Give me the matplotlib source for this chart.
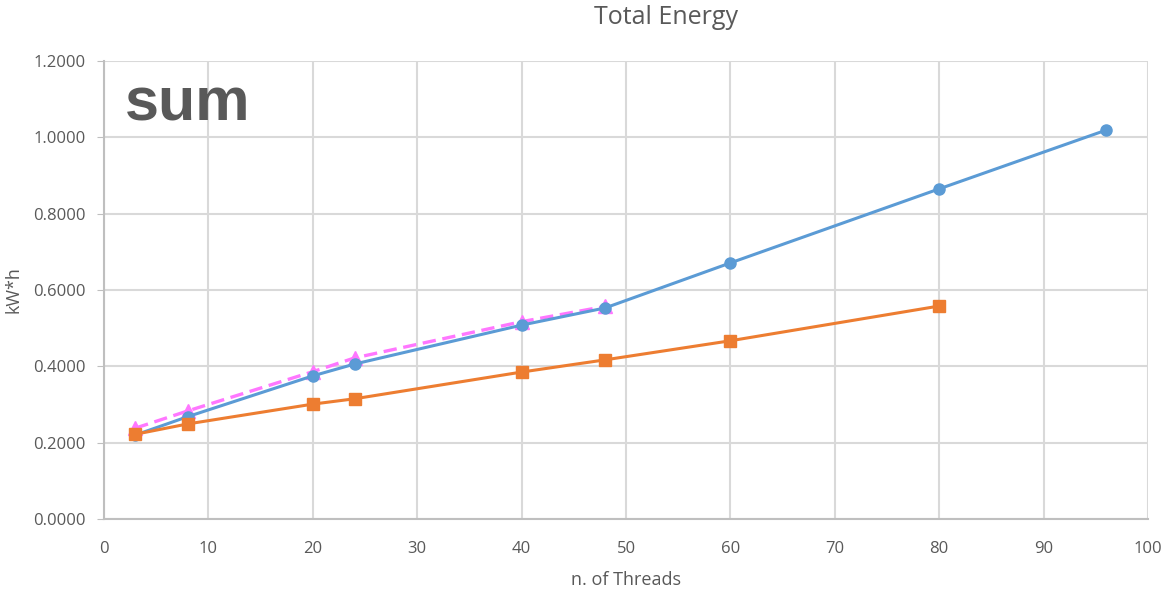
import matplotlib
matplotlib.use("Agg")
import matplotlib.pyplot as plt

plt.rcParams['font.family'] = ['Open Sans', 'DejaVu Sans']

# threads
threads_blue = [3, 8, 20, 24, 40, 48, 60, 80, 96]
energy_blue = [0.220, 0.268, 0.375, 0.406, 0.508, 0.553, 0.671, 0.865, 1.019]

threads_orange = [3, 8, 20, 24, 40, 48, 60, 80]
energy_orange = [0.222, 0.249, 0.301, 0.315, 0.385, 0.417, 0.467, 0.558]

threads_pink = [3, 8, 20, 24, 40, 48]
energy_pink = [0.238, 0.283, 0.386, 0.422, 0.517, 0.557]

fig = plt.figure(figsize=(11.7, 5.92), dpi=100)
ax = fig.add_axes([104/1170, 1 - 519/592, (1148-104)/1170, (519-61)/592])

ax.plot(threads_blue, energy_blue, color='#5B9BD5', lw=2.2, marker='o', ms=8, zorder=3)
ax.plot(threads_orange, energy_orange, color='#ED7D31', lw=2.2, marker='s', ms=8, zorder=4)
ax.plot(threads_pink, energy_pink, color='#FF77FF', lw=2.4, ls='--', dashes=(4, 2), marker='^', ms=10, zorder=2)

ax.set_xlim(0, 100)
ax.set_ylim(0, 1.2)
ax.set_xticks(range(0, 101, 10))
ax.set_yticks([0, 0.2, 0.4, 0.6, 0.8, 1.0, 1.2])
ax.set_yticklabels(['%.4f' % v for v in [0, 0.2, 0.4, 0.6, 0.8, 1.0, 1.2]])
ax.grid(True, color='#D9D9D9', lw=1.5)
ax.set_axisbelow(True)
for s in ['top', 'right']:
    ax.spines[s].set_visible(False)
ax.spines['left'].set_color('#BFBFBF')
ax.spines['bottom'].set_color('#BFBFBF')
ax.spines['left'].set_linewidth(1.5)
ax.spines['bottom'].set_linewidth(1.5)
ax.tick_params(colors='#595959', labelsize=12, length=0)
ax.tick_params(axis='x', pad=16)
ax.tick_params(axis='y', length=5, color='#BFBFBF', pad=8)

ax.set_xlabel('n. of Threads', color='#595959', fontsize=13, labelpad=10)
ax.set_ylabel('kW*h', color='#595959', fontsize=13, labelpad=8)
fig.text(666/1170, 1 - 18/592, 'Total Energy', ha='center', va='center', color='#595959', fontsize=18)
ax.text(0.02, 0.905, 'sum', transform=ax.transAxes, fontsize=44, fontweight='bold',
        color='#595959', ha='left', va='center', family=['Liberation Sans', 'DejaVu Sans'])

fig.savefig('out.png', dpi=100)
